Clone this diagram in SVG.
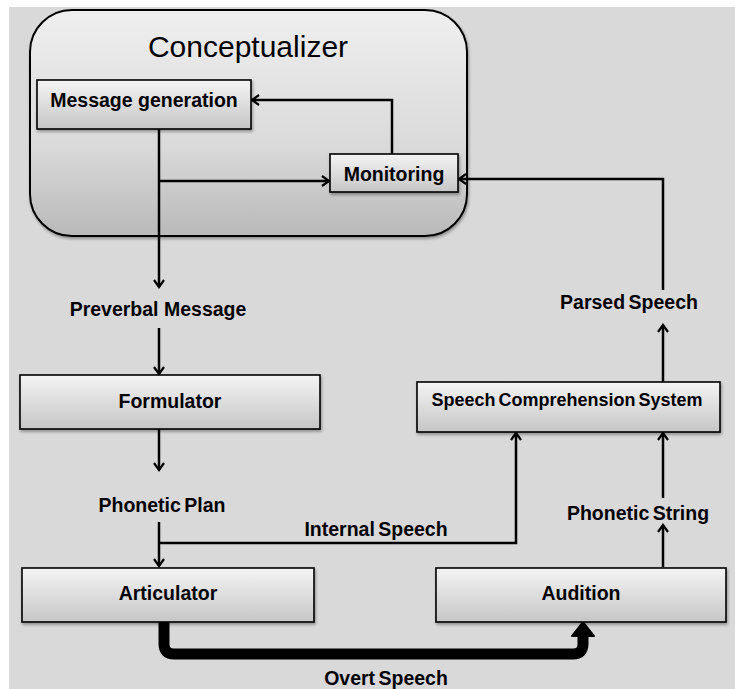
<svg xmlns="http://www.w3.org/2000/svg" width="735" height="689" viewBox="0 0 735 689">
<defs>
<linearGradient id="boxg" x1="0" y1="0" x2="0" y2="1">
<stop offset="0" stop-color="#f4f4f4"/>
<stop offset="1" stop-color="#c6c6c6"/>
</linearGradient>
<linearGradient id="cong" x1="0" y1="0" x2="0" y2="1">
<stop offset="0" stop-color="#efefef"/>
<stop offset="0.6" stop-color="#dadada"/>
<stop offset="1" stop-color="#b9b9b9"/>
</linearGradient>
<filter id="sh" x="-10%" y="-10%" width="120%" height="130%">
<feGaussianBlur in="SourceAlpha" stdDeviation="1.5"/>
<feOffset dx="1" dy="2" result="o"/>
<feComponentTransfer><feFuncA type="linear" slope="0.35"/></feComponentTransfer>
<feMerge><feMergeNode/><feMergeNode in="SourceGraphic"/></feMerge>
</filter>
<marker id="ah" markerWidth="12" markerHeight="12" refX="10" refY="6" orient="auto" markerUnits="userSpaceOnUse">
<path d="M3,1 L10,6 L3,11" fill="none" stroke="#000" stroke-width="2.2"/>
</marker>
</defs>
<style>
.box{fill:url(#boxg);stroke:#000;stroke-width:1.6;filter:url(#sh)}
.t{font-family:"Liberation Sans",Arial,sans-serif;font-weight:bold;font-size:19.5px;fill:#000;text-anchor:middle}
.c{stroke:#000;stroke-width:2.5;fill:none}
.a{marker-end:url(#ah)}
</style>
<rect x="9" y="7" width="726" height="682" fill="#d9d9d9"/>

<g id="conceptualizer">
<rect x="30" y="10" width="437" height="226" rx="42" ry="42" fill="url(#cong)" stroke="#000" stroke-width="2" filter="url(#sh)"/>
<text x="248" y="57" style="font-family:'Liberation Sans',Arial,sans-serif;font-size:30px;text-anchor:middle">Conceptualizer</text>
</g>

<g id="connectors">
<path class="c a" d="M159,129 V287"/>
<path class="c a" d="M159,181 H329"/>
<path class="c a" d="M392,154 V100 H252"/>
<path class="c a" d="M159,328 V374"/>
<path class="c a" d="M159,429 V470"/>
<path class="c a" d="M159,522 V566"/>
<path class="c a" d="M159,543 H516 V433"/>
<path class="c a" d="M663,567 V525"/>
<path class="c a" d="M663,498 V433"/>
<path class="c a" d="M663,382 V325"/>
<path class="c a" d="M663,290 V179 H459"/>
<path d="M164,622 V644 Q164,654 174,654 H573 Q583,654 583,644 V634" fill="none" stroke="#000" stroke-width="11" stroke-linejoin="round"/>
<path d="M572,636 L583,622 L594,636 Z" fill="#000" stroke="#000" stroke-width="2" stroke-linejoin="round"/>
</g>

<g id="message-generation">
<rect class="box" x="37" y="80" width="214" height="49"/>
<text class="t" x="144" y="107">Message generation</text>
</g>
<g id="monitoring">
<rect class="box" x="330" y="154" width="128" height="38"/>
<text class="t" x="394" y="181">Monitoring</text>
</g>
<g id="preverbal-message">
<text class="t" x="158" y="316">Preverbal Message</text>
</g>
<g id="formulator">
<rect class="box" x="20" y="375" width="300" height="54"/>
<text class="t" x="170" y="408">Formulator</text>
</g>
<g id="phonetic-plan">
<text class="t" x="162" y="512" word-spacing="-2">Phonetic Plan</text>
</g>
<g id="internal-speech">
<text class="t" x="376" y="536" word-spacing="-2">Internal Speech</text>
</g>
<g id="articulator">
<rect class="box" x="22" y="568" width="292" height="54"/>
<text class="t" x="168" y="600">Articulator</text>
</g>
<g id="audition">
<rect class="box" x="436" y="568" width="290" height="54"/>
<text class="t" x="581" y="600">Audition</text>
</g>
<g id="speech-comprehension-system">
<rect class="box" x="417" y="382" width="303" height="50"/>
<text class="t" x="567" y="406" style="font-size:18px" word-spacing="-2">Speech Comprehension System</text>
</g>
<g id="phonetic-string">
<text class="t" x="638" y="520" word-spacing="-2">Phonetic String</text>
</g>
<g id="parsed-speech">
<text class="t" x="629" y="309" word-spacing="-2">Parsed Speech</text>
</g>
<g id="overt-speech">
<text class="t" x="386" y="685" word-spacing="-2">Overt Speech</text>
</g>
</svg>
